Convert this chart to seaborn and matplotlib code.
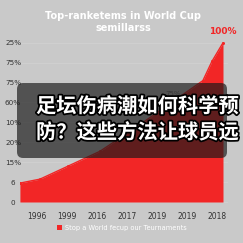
import matplotlib
matplotlib.use("Agg")
import matplotlib.pyplot as plt
import matplotlib.patheffects as pe
from matplotlib.patches import FancyBboxPatch, Patch
import seaborn as sns
import pandas as pd

# ---- data ----
year_labels = ["1996", "1999", "2016", "2017", "2019", "2019", "2018"]
ytick_labels = ["0", "6", "15%", "20%", "10%", "60%", "75%", "75%", "25%"]
x_pos = [-0.57, 0.1, 1.03, 2.1, 3.3, 4.53, 5.53, 5.83, 6.2]
share = [0.95, 1.15, 1.8, 2.55, 3.75, 5.05, 6.1, 7.06, 8.0]
title = "Top-ranketems in World Cup\nsemillarss"
legend_label = "Stop a World fecup our Teurnaments"
peak_label = "100%"
mid_label = "75%"
overlay_text = "足坛伤病潮如何科学预\n防？这些方法让球员远"

BG = "#c9c9c9"
RED = "#f22626"

sns.set_theme(style="white")
plt.rcParams["font.family"] = ["DejaVu Sans", "Noto Sans CJK SC"]

df = pd.DataFrame({"x": x_pos, "y": share})

fig = plt.figure(figsize=(2.43, 2.43), dpi=100, facecolor=BG)
ax = fig.add_axes([20 / 243, 1 - 205 / 243, 208 / 243, 165 / 243])
ax.set_facecolor(BG)

for j in range(len(ytick_labels)):
    ax.axhline(j, color="#d2d2d2", lw=0.5, zorder=0)

ax.fill_between(df["x"], df["y"], 0, color=RED, lw=0, zorder=2)
sns.lineplot(data=df, x="x", y="y", color=RED, lw=1.0, marker="o",
             markersize=2.2, markeredgewidth=0, ax=ax, zorder=3)

ax.set_xlim(-0.567, 6.367)
ax.set_ylim(-0.15, 8.14)
ax.set_xticks(range(len(year_labels)))
ax.set_xticklabels(year_labels)
ax.set_yticks(range(len(ytick_labels)))
ax.set_yticklabels(ytick_labels)
ax.set_xlabel("")
ax.set_ylabel("")
for s in ax.spines.values():
    s.set_visible(False)
ax.tick_params(axis="x", length=3, direction="in", color="#bdbdbd",
               labelsize=5.5, labelcolor="#333333", pad=5)
ax.tick_params(axis="y", length=0, labelsize=5.2, labelcolor="#333333", pad=5)
for t in ax.get_yticklabels():
    t.set_horizontalalignment("center")

ax.text(6.2, 8.35, peak_label, color=RED, fontsize=6.5, fontweight="bold",
        ha="center", va="bottom", zorder=5)
ax.text(4.53, 5.3, mid_label, color="#777777", fontsize=5, ha="center",
        va="bottom", zorder=3)

fig.text(123 / 243, 1 - 22 / 243, title, color="white", fontsize=7,
         fontweight="bold", ha="center", va="center", linespacing=1.3)

# overlay box
box = FancyBboxPatch((17 / 243, 1 - 158 / 243), 210 / 243, 75 / 243,
                     boxstyle="round,pad=0,rounding_size=0.025",
                     transform=fig.transFigure, facecolor="#1a1a1a",
                     alpha=0.68, edgecolor="none", zorder=10)
fig.patches.append(box)
fig.text(36 / 243, 1 - 119 / 243, overlay_text, color="white", fontsize=14.6,
         fontweight="bold", ha="left", va="center", linespacing=1.3,
         family=["Noto Sans CJK SC", "DejaVu Sans"], zorder=11,
         path_effects=[pe.withStroke(linewidth=2.5, foreground="black")])

leg = fig.legend(handles=[Patch(facecolor=RED, edgecolor="none", label=legend_label)],
                 loc="center", bbox_to_anchor=(122 / 243, 1 - 228 / 243),
                 frameon=False, fontsize=4.8, handlelength=0.8, handleheight=0.8,
                 handletextpad=0.4)
for t in leg.get_texts():
    t.set_color("white")

fig.savefig("out.png", dpi=100, facecolor=BG)
